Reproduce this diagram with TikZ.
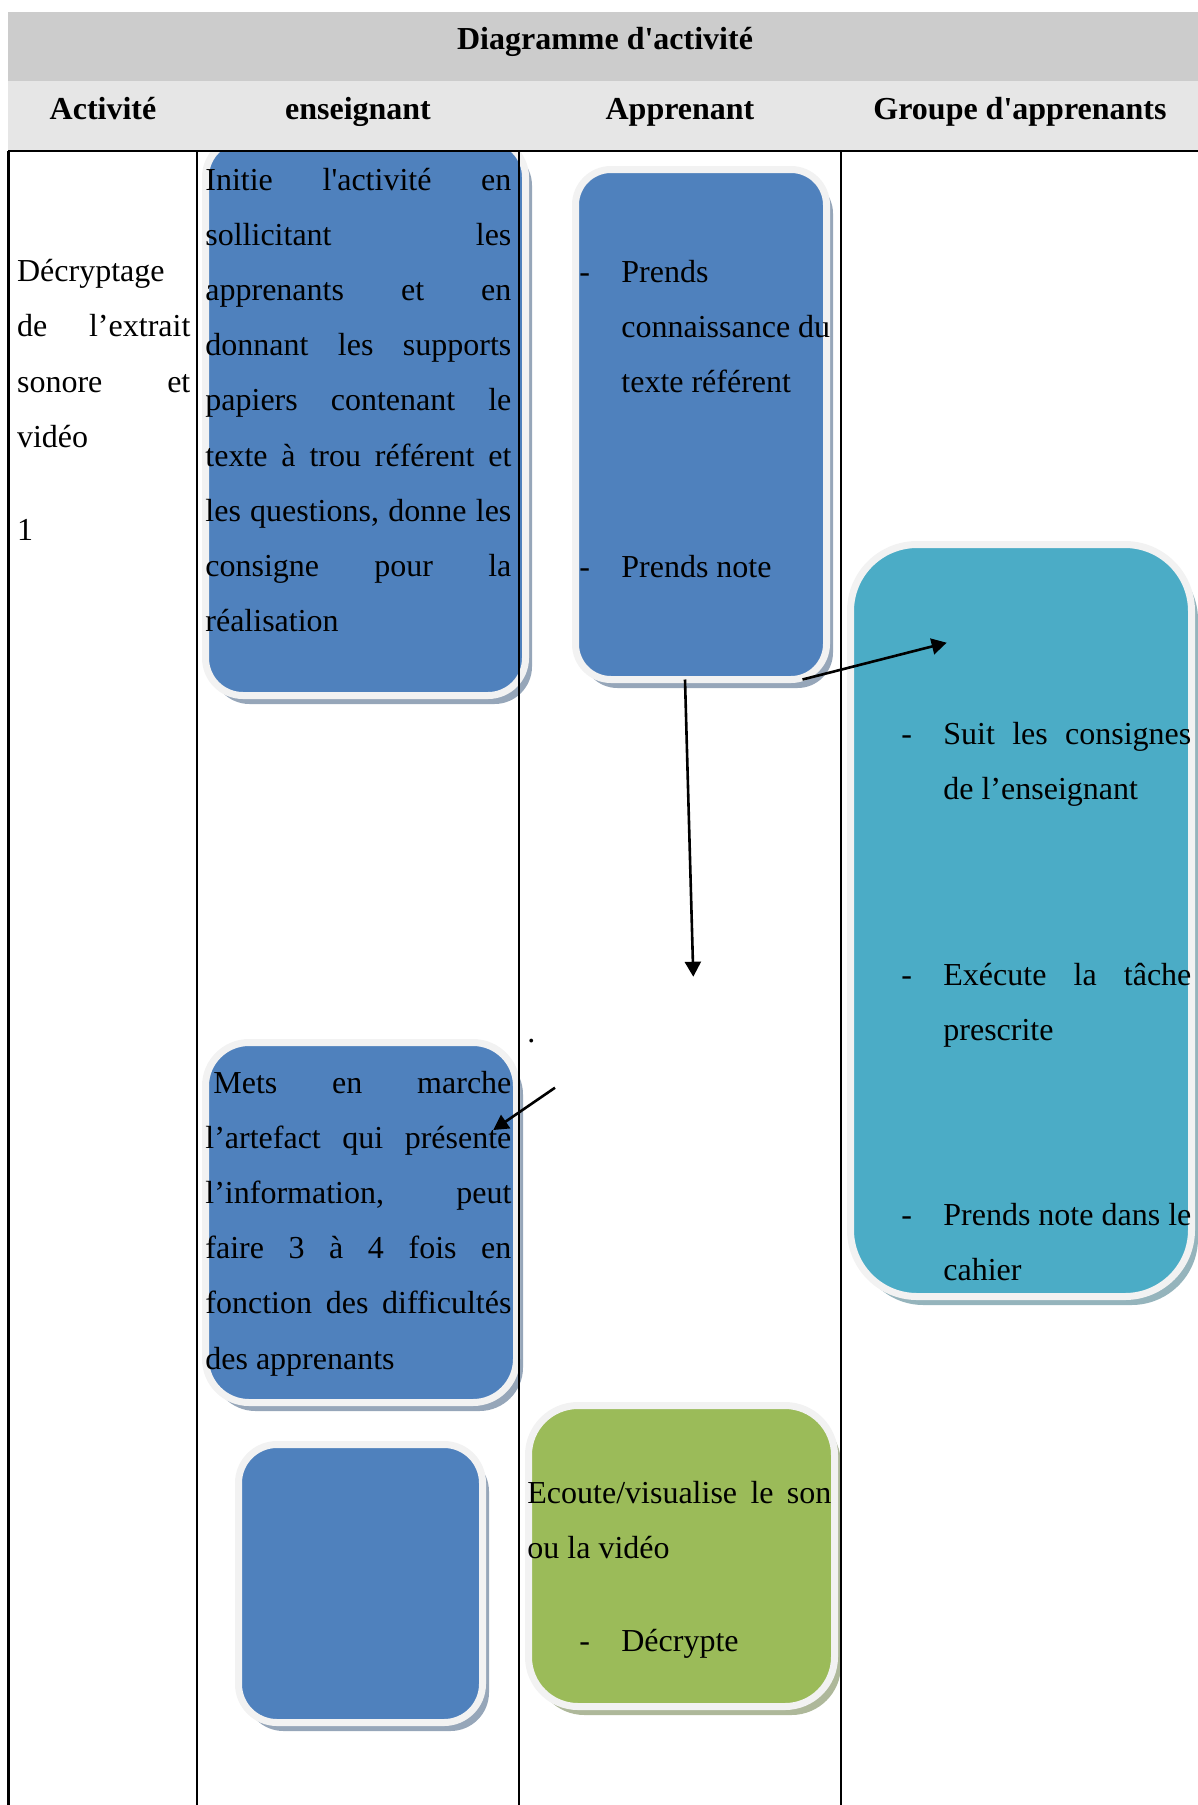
\documentclass[tikz,border=0pt]{standalone}
\usepackage{fontspec}
\setmainfont{Liberation Serif}
\usetikzlibrary{positioning,arrows.meta,shadows}
\definecolor{laneblue}{HTML}{4F81BD}
\definecolor{laneteal}{HTML}{4BACC6}
\definecolor{lanegreen}{HTML}{9BBB59}
\definecolor{rim}{HTML}{F2F2F2}
\definecolor{titlegray}{HTML}{CCCCCC}
\definecolor{headgray}{HTML}{E6E6E6}
\newcommand{\jline}[1]{\makebox[\linewidth][s]{\spaceskip=0pt\xspaceskip=0pt #1}}
\newcommand{\itemdash}{\makebox[21pt][l]{-}}
\newcommand{\itemjline}[1]{\makebox[\dimexpr\linewidth-21pt\relax][s]{\spaceskip=0pt\xspaceskip=0pt #1}}
\newcommand{\itemgap}{\hspace*{21pt}}

\begin{document}
\begin{tikzpicture}[
    x=0.5pt, y=-0.5pt,
    lane/.style={rectangle, draw=rim, line width=3.5pt, fill=#1, outer sep=0pt,
      drop shadow={shadow xshift=3.25pt, shadow yshift=-4.25pt, fill=#1!45!gray!70, opacity=1}},
    txt/.style={anchor=base west, inner sep=0pt, font=\fontsize{16}{27.6}\selectfont,
      execute at begin node={\spaceskip=0pt\xspaceskip=0pt}},
    head/.style={anchor=base, inner sep=0pt, font=\fontsize{16}{19}\selectfont\bfseries},
    flow/.style={-{Triangle[length=7.5pt, width=8pt]}, line width=1.3pt},
    rule/.style={line width=1.4pt}
  ]
    \useasboundingbox (0,0) rectangle (1198,1805);

    \node[lane=laneblue, minimum width=160pt, minimum height=278pt, rounded corners=18.75pt] (ens1) at (365.5,417.5) {};
    \node[lane=laneblue, minimum width=125.5pt, minimum height=255pt, rounded corners=17.75pt] (app1) at (701,424.5) {};
    \node[lane=laneteal, minimum width=170.5pt, minimum height=376pt, rounded corners=33.25pt] (grp1) at (1021,920.5) {};
    \node[lane=laneblue, minimum width=155.5pt, minimum height=180pt, rounded corners=21.75pt] (ens2) at (361,1222.5) {};
    \node[lane=laneblue, minimum width=122pt, minimum height=139pt, rounded corners=19.25pt] (ens3) at (360.5,1583.5) {};
    \node[lane=lanegreen, minimum width=153pt, minimum height=150.5pt, rounded corners=24.75pt] (app2) at (681.5,1556) {};

    \fill[titlegray] (8,12) rectangle (1198,81);
    \fill[headgray] (8,81) rectangle (1198,150);
    \draw[rule] (8,151) -- (1198,151);
    \foreach \x in {8.5,197,519,841}
      \draw[rule] (\x,151) -- (\x,1806);

    \node[head] (title) at (605,49) {Diagramme d\textquotesingle activité};
    \node[head] (hact) at (103,119) {Activité};
    \node[head] (hens) at (358,119) {enseignant};
    \node[head] (happ) at (680,119) {Apprenant};
    \node[head] (hgrp) at (1020,119) {Groupe d\textquotesingle apprenants};

    \node[txt, text width=86.65pt] (act) at (16.7,281.7) {Décryptage\\ \jline{de l’extrait}\\ \jline{sonore et}\\ vidéo};
    \node[txt] (actnum) at (16.7,540) {1};

    \node[txt, text width=153pt] (ens1txt) at (205,190) {\jline{Initie l\textquotesingle activité en}\\
      \jline{sollicitant les}\\ \jline{apprenants et en}\\ \jline{donnant les supports}\\
      \jline{papiers contenant le}\\ \jline{texte à trou référent et}\\
      \jline{les questions, donne les}\\ \jline{consigne pour la}\\ réalisation};

    \node[txt, text width=130pt] (app1a) at (579,282) {\itemdash Prends\\ \itemgap connaissance du\\ \itemgap texte référent};
    \node[txt, text width=130pt] (app1b) at (579,577) {\itemdash Prends note};

    \node[txt, text width=145pt] (grpa) at (901,744) {\itemdash\itemjline{Suit les consignes}\\ \itemgap de l’enseignant};
    \node[txt, text width=145pt] (grpb) at (901,985) {\itemdash\itemjline{Exécute la tâche}\\ \itemgap prescrite};
    \node[txt, text width=145pt] (grpc) at (901,1225) {\itemdash\itemjline{Prends note dans le}\\ \itemgap cahier};

    \node[txt, text width=153pt] (ens2txt) at (205,1093) {\hspace*{4pt}\makebox[\dimexpr\linewidth-4pt\relax][s]{\spaceskip=0pt\xspaceskip=0pt Mets en marche}\\
      \jline{l’artefact qui présente}\\ \jline{l’information, peut}\\ \jline{faire 3 à 4 fois en}\\
      \jline{fonction des difficultés}\\ des apprenants};

    \node[txt, text width=152pt] (app2a) at (527,1503) {\jline{Ecoute/visualise le son}\\ ou la vidéo};
    \node[txt, text width=130pt] (app2b) at (579,1651) {\itemdash Décrypte};

    \node[txt] (dot) at (527,1042) {.};

    \coordinate (intogrp) at (946.7,642.7);
    \coordinate (below) at (693.3,976.7);
    \coordinate (fromdot) at (555,1087.7);
    \coordinate (intoens) at (493.3,1130);
    \draw[flow] ([xshift=-12pt]app1.south east) -- (intogrp);
    \draw[flow] ([xshift=-8pt]app1.south) -- (below);
    \draw[flow] (fromdot) -- (intoens);
  \end{tikzpicture}
\end{document}
